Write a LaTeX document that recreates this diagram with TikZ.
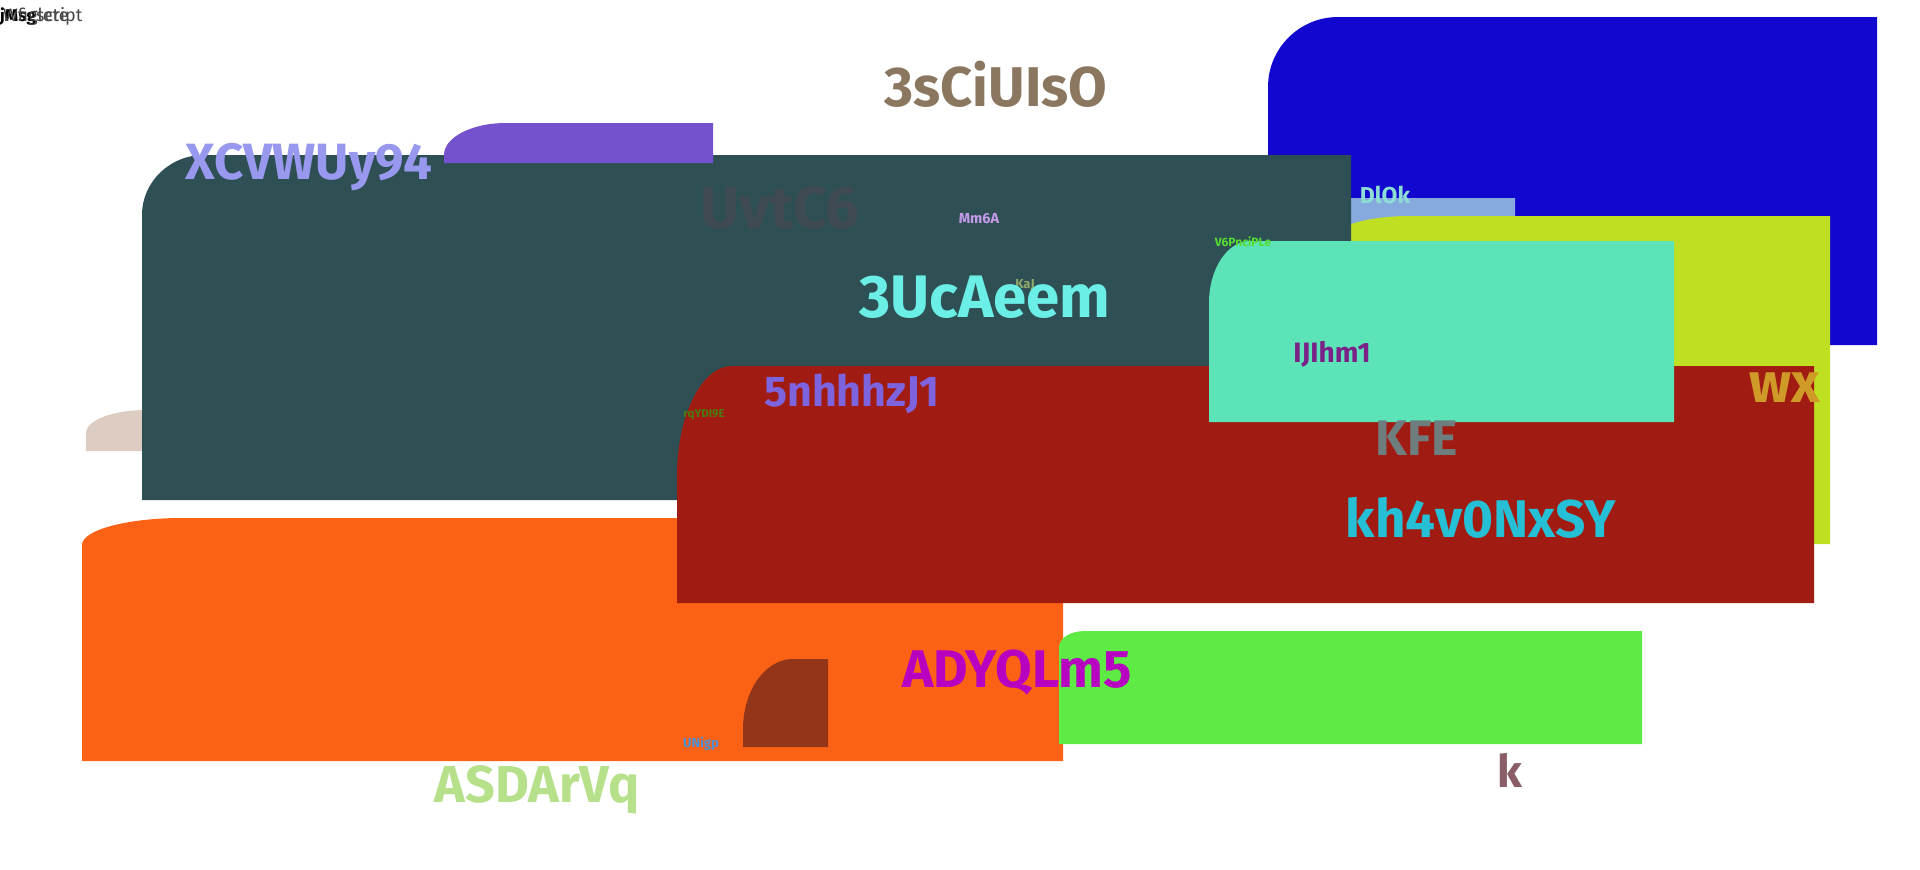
\documentclass[tikz,border=0pt]{standalone}
\usepackage{fontspec}
\setmainfont{Fira Sans}

\definecolor{cblue}{HTML}{1207CF}
\definecolor{cskyb}{HTML}{86AADD}
\definecolor{clime}{HTML}{BFE022}
\definecolor{cbeige}{HTML}{DCCCC2}
\definecolor{cslate}{HTML}{2E5055}
\definecolor{cviolet}{HTML}{7452CE}
\definecolor{corange}{HTML}{FB6216}
\definecolor{cred}{HTML}{A01C12}
\definecolor{cteal}{HTML}{5CE3B8}
\definecolor{cbrown}{HTML}{923518}
\definecolor{cgreen}{HTML}{5EEB46}

\tikzstyle{lbl}=[anchor=base, inner sep=0pt]
\newcommand\sz[1]{\fontsize{#1}{#1}\selectfont\bfseries}
% panel with one soft top-left corner: x1,y1,x2,y2,rx,ry,colour
\newcommand\slab[7]{\fill[#7] ({#1},{#4}) -- ({#1},{#2+#6}) .. controls ({#1},{#2+0.448*#6}) and ({#1+0.448*#5},{#2}) .. ({#1+#5},{#2}) -- ({#3},{#2}) -- ({#3},{#4}) -- cycle;}

\begin{document}
\begin{tikzpicture}[x=1pt,y=-1pt]
\useasboundingbox (0,0) rectangle (1920,870);

\slab{1268}{17}{1877}{345}{70}{70}{cblue}
\slab{1300}{198}{1515}{240}{0}{0}{cskyb}
\slab{1330}{216}{1830}{544}{80}{25}{clime}
\slab{86}{410}{200}{451}{60}{23}{cbeige}
\slab{142}{155}{1351}{500}{62}{60}{cslate}
\slab{444}{123}{713}{163}{62}{32}{cviolet}
\slab{82}{518}{1063}{761}{100}{27}{corange}
\slab{677}{366}{1814}{603}{55}{110}{cred}
\slab{1209}{241}{1674}{422}{41}{62}{cteal}
\slab{743}{659}{828}{747}{50}{70}{cbrown}
\slab{1059}{631}{1642}{744}{26}{16}{cgreen}

\node[lbl, anchor=base west, font=\sz{17}, text=black] (w1) at (0,21) {jMsg};
\node[lbl, anchor=base west, font=\fontsize{18}{18}\selectfont, text=black!75] (w2) at (3,21) {Wfiglete};
\node[lbl, anchor=base west, font=\fontsize{18}{18}\selectfont, text=black!70] (w3) at (36,21) {script};

\node[lbl, font=\sz{56}, text={rgb,255:red,139;green,119;blue,95}] (l3s) at (996,106) {3sCiUIsO};
\node[lbl, font=\sz{51}, text={rgb,255:red,152;green,152;blue,238}] (lxc) at (309,179) {XCVWUy94};
\node[lbl, font=\sz{60}, text={rgb,255:red,64;green,74;blue,82}] (luv) at (780,228) {UvtC6};
\node[lbl, font=\sz{14.5}, text={rgb,255:red,195;green,154;blue,232}] (lmm) at (979,223) {Mm6A};
\node[lbl, font=\sz{12}, text={rgb,255:red,85;green,221;blue,51}] (lv6) at (1243,246) {V6PnciPLe};
\node[lbl, font=\sz{13}, text={rgb,255:red,143;green,170;blue,106}] (lka) at (1025,288) {KaJ};
\node[lbl, font=\sz{60}, text={rgb,255:red,106;green,238;blue,230}] (l3u) at (985,317) {3UcAeem};
\node[lbl, font=\sz{23}, text={rgb,255:red,142;green,221;blue,213}] (ldl) at (1385,203) {DlOk};
\node[lbl, font=\sz{28}, text={rgb,255:red,122;green,34;blue,136}] (lij) at (1332,362) {IJIhm1};
\node[lbl, font=\sz{43}, text={rgb,255:red,126;green,99;blue,222}] (l5n) at (852,406) {5nhhhzJ1};
\node[lbl, font=\sz{11.5}, text={rgb,255:red,74;green,122;blue,16}] (lrq) at (704,417) {rqYDI9E};
\node[lbl, font=\sz{56}, text={rgb,255:red,208;green,154;blue,40}] (lwx) at (1785,402) {wx};
\node[lbl, font=\sz{50}, text={rgb,255:red,110;green,126;blue,126}] (lkf) at (1417,455) {KFE};
\node[lbl, font=\sz{53}, text={rgb,255:red,37;green,192;blue,214}] (lkh) at (1481,537) {kh4v0NxSY};
\node[lbl, font=\sz{53}, text={rgb,255:red,184;green,0;blue,192}] (lad) at (1017,687) {ADYQLm5};
\node[lbl, font=\sz{13}, text={rgb,255:red,74;green,144;blue,216}] (lun) at (701,747) {UNigp};
\node[lbl, font=\sz{52}, text={rgb,255:red,182;green,224;blue,138}] (las) at (537,802) {ASDArVq};
\node[lbl, font=\sz{45}, text={rgb,255:red,138;green,94;blue,102}] (lk) at (1510,787) {k};
\end{tikzpicture}
\end{document}
